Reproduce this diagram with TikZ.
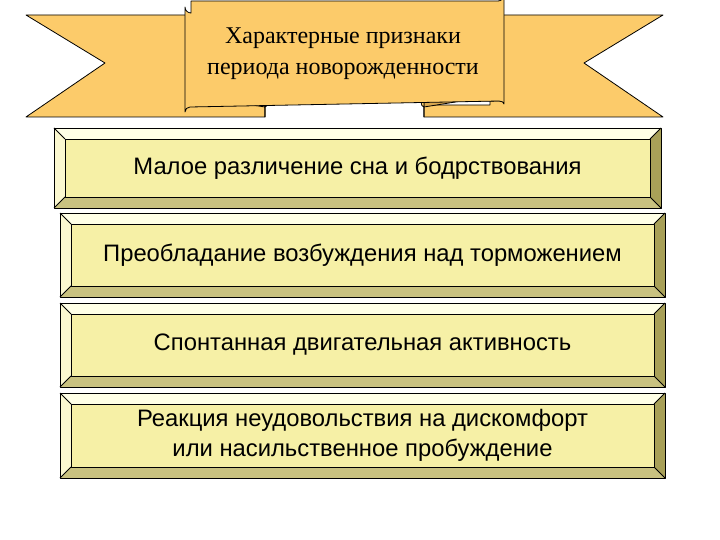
\documentclass[tikz,border=0pt]{standalone}
\usepackage{fontspec}
\setmainfont{Liberation Serif}
\newfontfamily\sansf{Liberation Sans}
\definecolor{rib}{HTML}{FCCB6A}
\definecolor{ribd}{HTML}{D9A850}
\definecolor{face}{HTML}{F6F0A6}
\definecolor{btop}{HTML}{FFFFE6}
\definecolor{bleft}{HTML}{FBF8D0}
\definecolor{bbot}{HTML}{C9C280}
\definecolor{bright}{HTML}{A8A058}
\tikzset{edge/.style={draw=black,line width=0.8pt,line join=round},
 lbl/.style={font=\sansf\fontsize{23.8}{30}\selectfont,align=center}}
\newcommand{\bevelbox}[6]{% x1,y1,x2,y2,name,text
 \begin{scope}
 \def\b{11}
 \fill[btop] (#1,#2)--(#3,#2)--(#3-\b,#2+\b)--(#1+\b,#2+\b)--cycle;
 \fill[bleft] (#1,#2)--(#1+\b,#2+\b)--(#1+\b,#4-\b)--(#1,#4)--cycle;
 \fill[bbot] (#1,#4)--(#1+\b,#4-\b)--(#3-\b,#4-\b)--(#3,#4)--cycle;
 \fill[bright] (#3,#2)--(#3,#4)--(#3-\b,#4-\b)--(#3-\b,#2+\b)--cycle;
 \draw[edge,fill=face] (#1+\b,#2+\b) rectangle (#3-\b,#4-\b);
 \draw[edge] (#1,#2) rectangle (#3,#4);
 \draw[edge] (#1,#2)--(#1+\b,#2+\b) (#3,#2)--(#3-\b,#2+\b) (#1,#4)--(#1+\b,#4-\b) (#3,#4)--(#3-\b,#4-\b);
 \node[lbl] (#5) at ({(#1+#3)/2},{(#2+#4)/2}) {#6};
 \end{scope}}
\begin{document}
\begin{tikzpicture}[x=1pt,y=-1pt]
\useasboundingbox[fill=white] (0,0) rectangle (720,540);
% ribbon ears
\draw[edge,fill=rib] (196,15)--(26,15)--(105,63)--(26,117)--(265,117)--(265,105)--(196,105)--cycle;
\draw[edge,fill=rib] (490,15)--(663,15)--(584,63)--(663,117)--(424,117)--(424,105)--(490,105)--cycle;
% curls
\draw[edge,fill=ribd] (265,117)--(265,101)--(190,101) arc[start angle=90,end angle=270,x radius=4,y radius=3]--(265,107);
\draw[edge,fill=ribd] (424,117)--(424,101)--(499,101) arc[start angle=90,end angle=-90,x radius=4,y radius=3]--(424,107);
\draw[edge,fill=rib] (424,117)--(424,107) arc[start angle=90,end angle=270,x radius=3,y radius=5]--cycle;
\draw[edge,fill=rib] (265,117)--(265,107) arc[start angle=90,end angle=-90,x radius=3,y radius=5]--cycle;
% center panel
\draw[edge,fill=rib] (191,1)--(498,1) arc[start angle=90,end angle=0,radius=6]--(504,104) arc[start angle=0,end angle=-90,x radius=5,y radius=3]--(190,107) arc[start angle=270,end angle=180,radius=5]--(185,7) arc[start angle=180,end angle=90,radius=6]--cycle;
\node[font=\fontsize{24}{31}\selectfont,align=center] (title) at (343,54) {Характерные признаки\\периода новорожденности};
\bevelbox{54}{128}{661}{208}{b1}{Малое различение сна и бодрствования}
\bevelbox{60}{213}{665}{297}{b2}{Преобладание возбуждения над торможением}
\bevelbox{60}{303}{665}{387}{b3}{Спонтанная двигательная активность}
\bevelbox{60}{393}{665}{478}{b4}{Реакция неудовольствия на дискомфорт\\или насильственное пробуждение}
\end{tikzpicture}
\end{document}
